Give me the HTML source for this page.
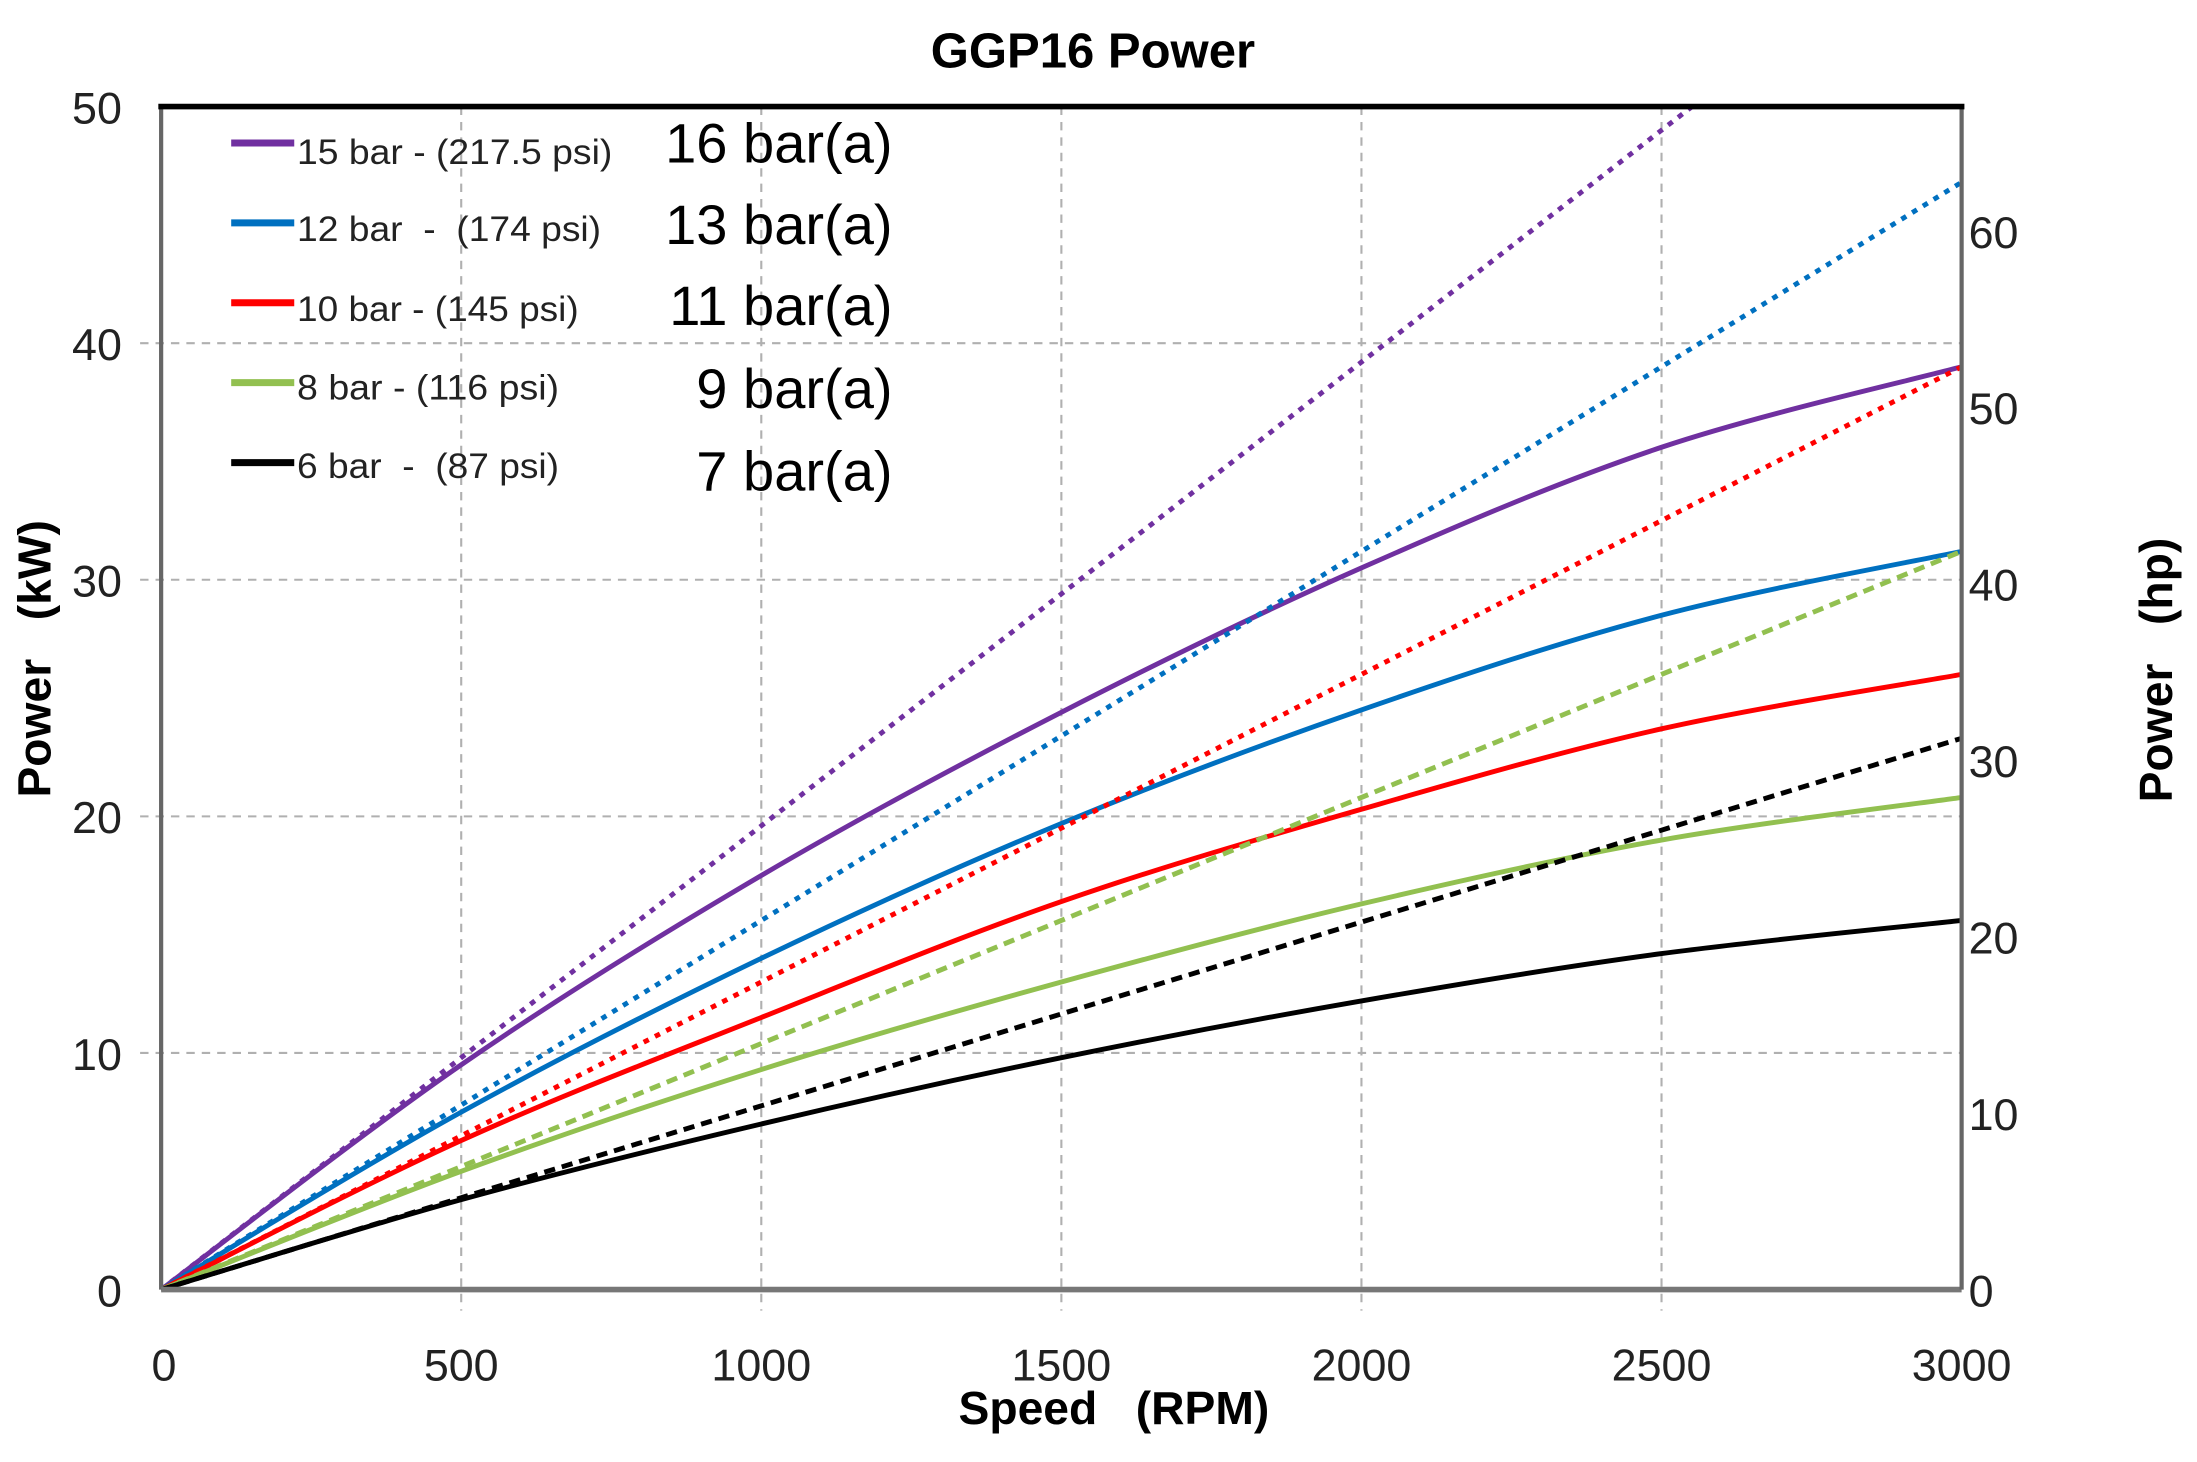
<!DOCTYPE html>
<html><head><meta charset="utf-8"><style>
html,body{margin:0;padding:0;background:#fff;}
svg{display:block;}
text{font-family:"Liberation Sans",Arial,sans-serif;}
</style></head><body>
<svg id="s" width="2197" height="1462" viewBox="0 0 1568 1043" preserveAspectRatio="none" xmlns="http://www.w3.org/2000/svg">
<rect width="1568" height="1043" fill="#fff"/>
<g id="grid" stroke="#b0b0b0" stroke-width="1.5" stroke-dasharray="6,5" fill="none"></g>
<g id="curves" fill="none"></g>
<line x1="115" y1="76" x2="115" y2="920" stroke="#666" stroke-width="3"/>
<line x1="115" y1="920" x2="1400" y2="920" stroke="#777" stroke-width="4"/>
<line x1="1400" y1="76" x2="1400" y2="920" stroke="#666" stroke-width="3"/>
<line x1="113" y1="76" x2="1402" y2="76" stroke="#000" stroke-width="4"/>
<text x="780" y="48" font-size="35" font-weight="bold" text-anchor="middle">GGP16 Power</text>
<g font-size="32" fill="#222" text-anchor="end" id="yl"></g>
<g font-size="32" fill="#222" text-anchor="start" id="yr"></g>
<g font-size="32" fill="#222" text-anchor="middle" id="xl"></g>
<text x="795" y="1016" font-size="33" font-weight="bold" text-anchor="middle">Speed &#160;&#160;(RPM)</text>
<text transform="translate(36,470) rotate(-90)" font-size="33" font-weight="bold" text-anchor="middle">Power &#160;&#160;(kW)</text>
<text transform="translate(1550,478) rotate(-90)" font-size="33" font-weight="bold" text-anchor="middle">Power &#160;&#160;(hp)</text>
<g stroke-width="5">
<line x1="165" y1="102" x2="210" y2="102" stroke="#7030a0"/>
<line x1="165" y1="159" x2="210" y2="159" stroke="#0070c0"/>
<line x1="165" y1="216" x2="210" y2="216" stroke="#ff0000"/>
<line x1="165" y1="273" x2="210" y2="273" stroke="#92c050"/>
<line x1="165" y1="330" x2="210" y2="330" stroke="#000"/>
</g>
<g font-size="25" fill="#222">
<text x="212" y="117" textLength="225" lengthAdjust="spacingAndGlyphs">15 bar - (217.5 psi)</text>
<text x="212" y="172" textLength="217" lengthAdjust="spacingAndGlyphs">12 bar &#160;- &#160;(174 psi)</text>
<text x="212" y="229" textLength="201" lengthAdjust="spacingAndGlyphs">10 bar - (145 psi)</text>
<text x="212" y="285" textLength="187" lengthAdjust="spacingAndGlyphs">8 bar - (116 psi)</text>
<text x="212" y="341" textLength="187" lengthAdjust="spacingAndGlyphs">6 bar &#160;- &#160;(87 psi)</text>
</g>
<g font-size="40" fill="#000" text-anchor="end">
<text x="637" y="116">16 bar(a)</text>
<text x="637" y="174">13 bar(a)</text>
<text x="637" y="232">11 bar(a)</text>
<text x="637" y="291">9 bar(a)</text>
<text x="637" y="350">7 bar(a)</text>
</g>
</svg>
<script>
var NS="http://www.w3.org/2000/svg";
function X(r){return 115+r*(1285/3000);}
function Y(k){return 920-k*(844/50);}
function el(p,n,a){var e=document.createElementNS(NS,n);for(var k in a)e.setAttribute(k,a[k]);p.appendChild(e);return e;}
var g=document.getElementById('grid');
for(var i=1;i<=5;i++)el(g,'line',{x1:X(i*500),y1:76,x2:X(i*500),y2:935});
for(var j=1;j<=4;j++)el(g,'line',{x1:100,y1:Y(j*10),x2:1400,y2:Y(j*10)});
var yl=document.getElementById('yl');
for(var j=0;j<=5;j++){var t=el(yl,'text',{x:87,y:Y(j*10)+12});t.textContent=j*10;}
var yr=document.getElementById('yr');
for(var h=0;h<=60;h+=10){var t=el(yr,'text',{x:1405,y:Y(h*0.7457)+12});t.textContent=h;}
var xl=document.getElementById('xl');
for(var i=0;i<=6;i++){var t=el(xl,'text',{x:X(i*500)+(i==0?2:0),y:985});t.textContent=i*500;}
function path(vals){var pts=vals.map(function(v,i){return [X(i*500),Y(v)];});
var d="M"+pts[0][0]+","+pts[0][1];
for(var i=0;i<pts.length-1;i++){var p0=pts[i-1]||pts[i],p1=pts[i],p2=pts[i+1],p3=pts[i+2]||p2;
d+=" C"+(p1[0]+(p2[0]-p0[0])/6)+","+(p1[1]+(p2[1]-p0[1])/6)+" "+(p2[0]-(p3[0]-p1[0])/6)+","+(p2[1]-(p3[1]-p1[1])/6)+" "+p2[0]+","+p2[1];}
return d;}
var c=document.getElementById('curves');
var S=[["#7030a0",[0,9.5,17.5,24.4,30.5,35.6,39],"4,5",58.8],
["#0070c0",[0,7.5,14,19.7,24.5,28.5,31.2],"4,5",46.8],
["#ff0000",[0,6.3,11.5,16.4,20.3,23.7,26],"4,5",39],
["#92c050",[0,5,9.3,13,16.3,19,20.8],"8,5",31.2],
["#000000",[0,3.8,7,9.8,12.2,14.2,15.6],"8,5",23.3]];
S.forEach(function(s){
var xe=3000,ye=s[3];if(ye>50){xe=3000*50/ye;ye=50;}
el(c,'line',{x1:X(0),y1:Y(0),x2:X(xe),y2:Y(ye),stroke:s[0],'stroke-width':3.5,'stroke-dasharray':s[2]});
el(c,'path',{d:path(s[1]),stroke:s[0],'stroke-width':3.5});
});
</script>
</body></html>
